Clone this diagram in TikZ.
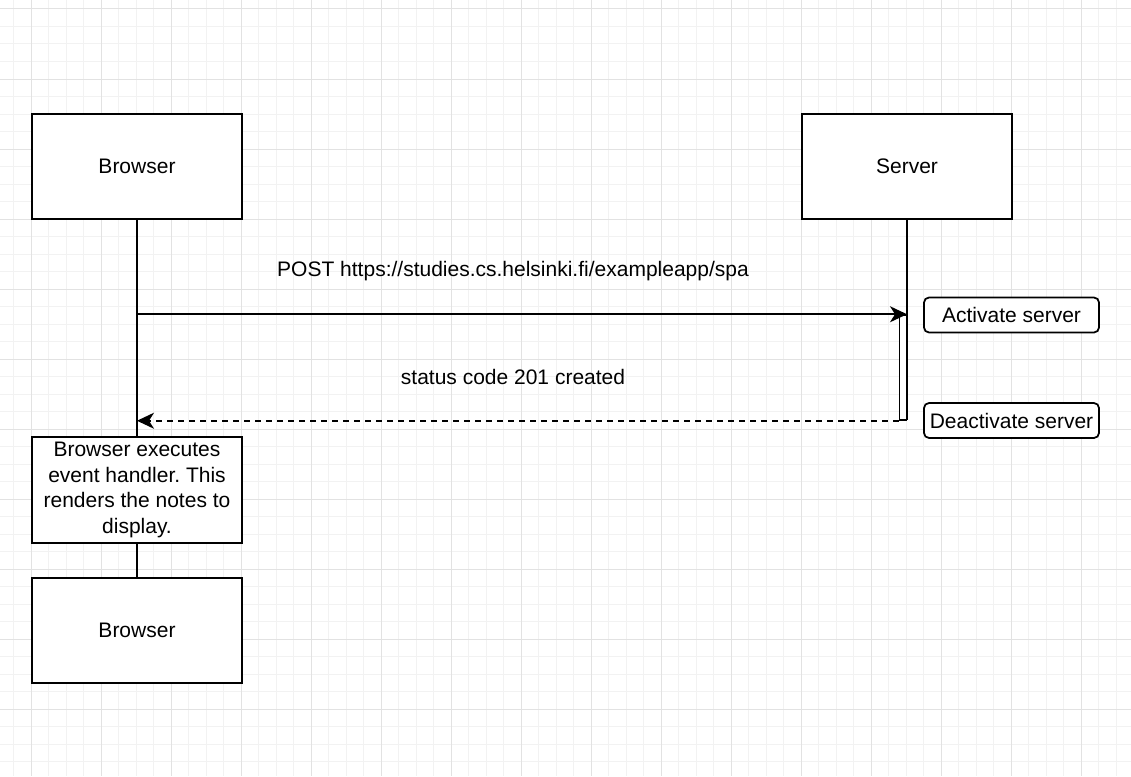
\documentclass[tikz,border=0pt]{standalone}
\usepackage{fontspec}
\setmainfont{Liberation Sans}
\usetikzlibrary{arrows.meta}

\definecolor{gridminor}{RGB}{242,242,242}
\definecolor{gridmajor}{RGB}{226,226,226}

\frenchspacing

\begin{document}
\begin{tikzpicture}[
	x=1pt, y=-1pt,
	line width=1.75pt,
	font=\fontsize{21}{25.5}\selectfont,
	actor/.style={
		draw, fill=white,
		inner sep=0pt,
		minimum width=210pt,
		minimum height=105pt
	},
	notebox/.style={
		draw, fill=white,
		align=center,
		inner sep=0pt,
		minimum width=210pt,
		minimum height=106pt
	},
	sidenote/.style={
		draw, fill=white,
		rounded corners=5pt,
		inner sep=0pt,
		minimum width=175pt,
		minimum height=35pt
	},
	activation/.style={
		draw, fill=white,
		inner sep=0pt,
		line width=1.5pt,
		minimum width=7pt,
		minimum height=105pt
	},
	msg/.style={-{Stealth[length=17pt,width=16pt,inset=5pt]}},
	reply/.style={msg, dash pattern=on 6pt off 5pt}
	]
	
	\useasboundingbox (0,0) rectangle (1131,776);
	
	% grid
	\fill[white] (0,0) rectangle (1131,776);
	\foreach \i in {0,...,65} {
		\draw[gridminor, line width=1pt] ({13.5+17.5*\i},0) -- ({13.5+17.5*\i},776);
	}
	\foreach \i in {0,...,45} {
		\draw[gridminor, line width=1pt] (0,{9+17.5*\i}) -- (1131,{9+17.5*\i});
	}
	\foreach \i in {0,...,16} {
		\draw[gridmajor, line width=1pt] ({31+70*\i},0) -- ({31+70*\i},776);
	}
	\foreach \i in {0,...,11} {
		\draw[gridmajor, line width=1pt] (0,{9+70*\i}) -- (1131,{9+70*\i});
	}
	
	\node[actor] (browser) at (137,166.5) {Browser};
	\node[actor] (server)  at (907,166.5) {Server};
	\node[notebox] (render) at (137,490) {Browser executes\\event handler. This\\renders the notes to\\display.};
	\node[actor] (browser2) at (137,630.5) {Browser};
	
	\coordinate (serverend) at (907,420);
	
	% lifelines
	\draw (browser.south) -- (render.north);
	\draw (render.south)  -- (browser2.north);
	\draw (server.south)  -- (serverend);
	
	\node[activation] (act) at (903,367.5) {};
	
	\draw[msg] (browser.south |- act.north) -- (server.south |- act.north);
	\draw[reply] (act.south west) -- (act.south west -| browser.south);
	
	\node (post)   at (513,271) {POST https://studies.cs.helsinki.fi/exampleapp/spa};
	\node (status) at (513,377) {status code 201 created};
	
	\node[sidenote] (activate)   at (1011.5,315)   {Activate server};
	\node[sidenote] (deactivate) at (1011.5,420.5) {Deactivate server};
	
\end{tikzpicture}
\end{document}
